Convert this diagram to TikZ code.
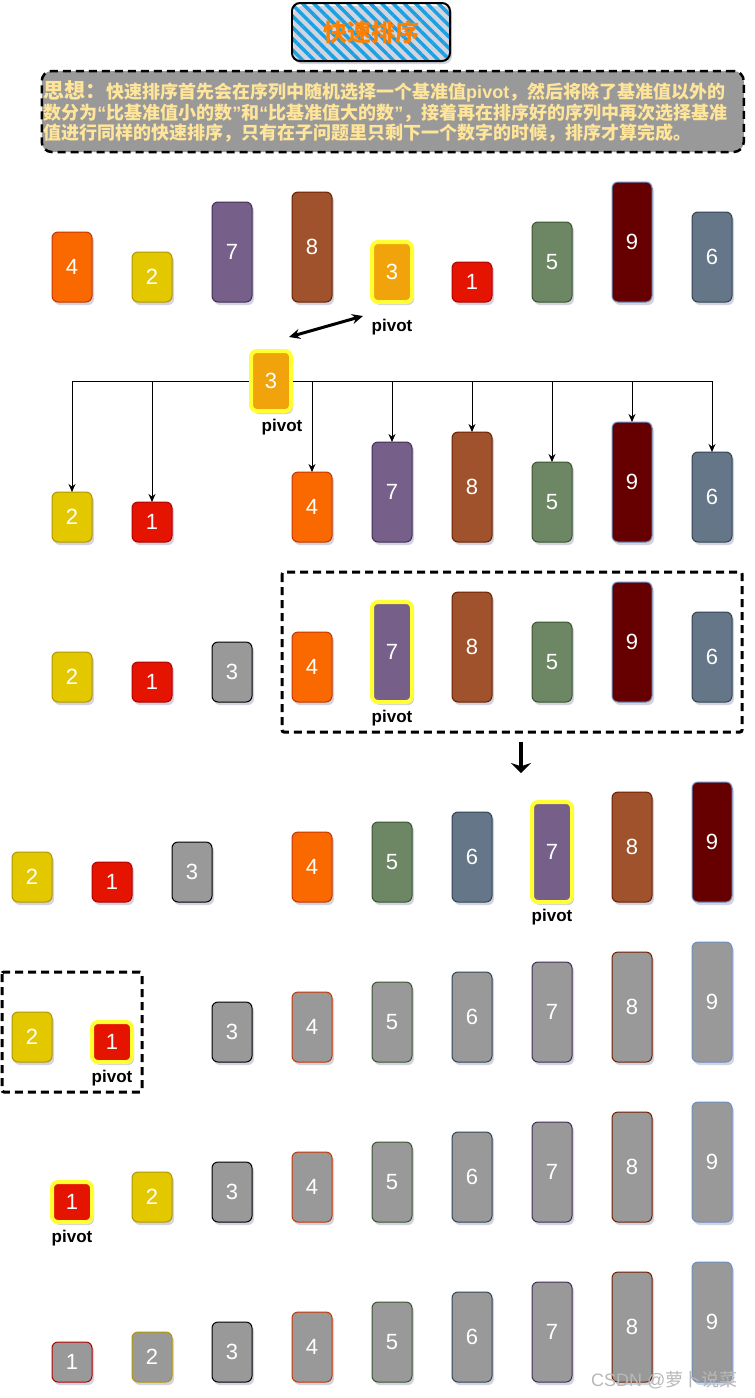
\documentclass[tikz,border=0pt]{standalone}
\usepackage{fontspec}
\setmainfont{Liberation Sans}
\newfontfamily\cjk{Noto Sans CJK SC}
\newfontfamily\latinsans{Liberation Sans}
\usetikzlibrary{arrows.meta, positioning, shadows, patterns.meta}

\definecolor{redf}{HTML}{E51400}
\definecolor{redd}{HTML}{B20000}
\definecolor{yelf}{HTML}{E3C800}
\definecolor{yeld}{HTML}{B09500}
\definecolor{ambf}{HTML}{F0A30A}
\definecolor{ambd}{HTML}{BD7000}
\definecolor{orgf}{HTML}{FA6800}
\definecolor{orgd}{HTML}{C73500}
\definecolor{olvf}{HTML}{6D8764}
\definecolor{olvd}{HTML}{3A5431}
\definecolor{stlf}{HTML}{647687}
\definecolor{stld}{HTML}{314354}
\definecolor{vltf}{HTML}{76608A}
\definecolor{vltd}{HTML}{432D57}
\definecolor{snaf}{HTML}{A0522D}
\definecolor{snad}{HTML}{6D1F00}
\definecolor{marf}{HTML}{660000}
\definecolor{mard}{HTML}{6C8EBF}
\definecolor{donegray}{HTML}{999999}
\definecolor{pivyel}{HTML}{FFFF33}
\definecolor{hatchblue}{HTML}{1BA1E2}
\definecolor{titleorg}{HTML}{FF8000}
\definecolor{ideatext}{HTML}{FFE599}
\definecolor{shade}{HTML}{B4B8CC}

\newcommand{\ltn}[1]{{\latinsans #1}}

% one number: [extra]{name}{x}{bottom}{value}
\newcommand{\numbox}[5][]{%
  \node[numbox, v#5, minimum height={30+10*#5}, #1] (#2) at (#3,#4) {#5};}

\tikzset{
  v1/.style={fill=redf, draw=redd},
  v2/.style={fill=yelf, draw=yeld},
  v3/.style={fill=ambf, draw=ambd},
  v4/.style={fill=orgf, draw=orgd},
  v5/.style={fill=olvf, draw=olvd},
  v6/.style={fill=stlf, draw=stld},
  v7/.style={fill=vltf, draw=vltd},
  v8/.style={fill=snaf, draw=snad},
  v9/.style={fill=marf, draw=mard},
  sorted/.style={fill=donegray},
  pivot/.style={draw=pivyel, line width=4pt},
  numbox/.style={rectangle, rounded corners=6pt, minimum width=40pt,
    inner sep=0pt, outer sep=0pt, anchor=south, text=white, line width=1pt,
    font=\fontsize{22}{26}\selectfont,
    drop shadow={shadow xshift=2pt, shadow yshift=-3pt, fill=shade, opacity=0.6}},
  lbl/.style={font=\fontsize{17}{20}\selectfont\bfseries, inner sep=0pt},
  tree/.style={-{Stealth[length=8pt, width=7pt]}, line width=1pt},
  framebox/.style={line width=3pt, dash pattern=on 8pt off 5pt, rounded corners=2pt},
}

\begin{document}
\begin{tikzpicture}[x=1pt, y=-1pt]

\fill[white] (0,0) rectangle (755,1398);
\useasboundingbox (0,0) rectangle (755,1398);

% Title
\node[draw, line width=2pt, rounded corners=8pt, minimum width=158pt, minimum height=58pt,
  pattern={Lines[angle=-45, distance=8pt, line width=3.5pt]}, pattern color=hatchblue,
  drop shadow={shadow xshift=2pt, shadow yshift=-3pt, fill=shade, opacity=0.6},
  font=\cjk\bfseries\fontsize{24}{28}\selectfont, text=titleorg] (title) at (371,32)
  {快速排序};

% Idea
\node[draw, line width=2.5pt, dash pattern=on 8pt off 5pt, rounded corners=10pt,
  fill=donegray, minimum width=702pt, minimum height=81pt, text width=699pt,
  inner xsep=1.5pt, align=left, text=ideatext,
  font=\cjk\bfseries\fontsize{18}{20}\selectfont] (idea) at (392.75,111.5)
  {{\fontsize{21}{24}\selectfont 思想：}快速排序首先会在序列中随机选择一个基准值\ltn{pivot}，然后将除了基准值以外的\\[1pt]
   数分为\ltn{“}比基准值小的数\ltn{”}和\ltn{“}比基准值大的数\ltn{”}，接着再在排序好的序列中再次选择基准\\
   值进行同样的快速排序，只有在子问题里只剩下一个数字的时候，排序才算完成。};

% === Row 1: the input ===
\numbox{a4}{72}{302}{4}
\numbox{a2}{152}{302}{2}
\numbox{a7}{232}{302}{7}
\numbox{a8}{312}{302}{8}
\numbox[pivot]{a3}{392}{302}{3}
\numbox{a1}{472}{302}{1}
\numbox{a5}{552}{302}{5}
\numbox{a9}{632}{302}{9}
\numbox{a6}{712}{302}{6}
\node[lbl, below=17pt of a3] (a3lbl) {pivot};

\coordinate (swapL) at (289,337);
\coordinate (swapR) at (363,316);
\draw[{Stealth[length=11pt, width=10pt]}-{Stealth[length=11pt, width=10pt]}, line width=3pt]
  (swapL) -- (swapR);

% === Row 2: split around 3 ===
\numbox[pivot]{b3}{271}{411}{3}
\node[lbl, below=8pt of b3, xshift=11pt] (b3lbl) {pivot};
\numbox{b2}{72}{542}{2}
\numbox{b1}{152}{542}{1}
\numbox{b4}{312}{542}{4}
\numbox{b7}{392}{542}{7}
\numbox{b8}{472}{542}{8}
\numbox{b5}{552}{542}{5}
\numbox{b9}{632}{542}{9}
\numbox{b6}{712}{542}{6}

\draw[tree] ([xshift=-2pt]b3.west) -| (b2.north);
\draw[tree] (b3.west -| b1.north) -- (b1.north);
\draw[tree] ([xshift=2pt]b3.east) -| (b6.north);
\foreach \n in {b4,b7,b8,b5,b9}
  \draw[tree] (b3.east -| \n.north) -- (\n.north);

% === Row 3: right part, pivot 7 ===
\numbox{c2}{72}{702}{2}
\numbox{c1}{152}{702}{1}
\numbox[sorted, draw=black]{c3}{232}{702}{3}
\numbox{c4}{312}{702}{4}
\numbox[pivot]{c7}{392}{702}{7}
\numbox{c8}{472}{702}{8}
\numbox{c5}{552}{702}{5}
\numbox{c9}{632}{702}{9}
\numbox{c6}{712}{702}{6}
\node[lbl, below=8pt of c7] (c7lbl) {pivot};
\draw[framebox] (282,572) rectangle (742,732);

\coordinate (downA) at (521,742);
\coordinate (downB) at (521,773);
\draw[-{Stealth[length=10pt, width=20pt]}, line width=4pt] (downA) -- (downB);

% === Row 4 ===
\numbox{d2}{32}{902}{2}
\numbox{d1}{112}{902}{1}
\numbox[sorted, draw=black]{d3}{192}{902}{3}
\numbox{d4}{312}{902}{4}
\numbox{d5}{392}{902}{5}
\numbox{d6}{472}{902}{6}
\numbox[pivot]{d7}{552}{902}{7}
\numbox{d8}{632}{902}{8}
\numbox{d9}{712}{902}{9}
\node[lbl, below=7pt of d7] (d7lbl) {pivot};

% === Row 5: left part, pivot 1 ===
\numbox{e2}{32}{1062}{2}
\numbox[pivot]{e1}{112}{1062}{1}
\node[lbl, below=8pt of e1] (e1lbl) {pivot};
\numbox[sorted, draw=black]{e3}{232}{1062}{3}
\foreach \v [evaluate=\v as \px using int(80*\v-8)] in {4,...,9}
  {\numbox[sorted]{e\v}{\px}{1062}{\v}}
\draw[framebox] (2,972) rectangle (142,1092);

% === Row 6 ===
\numbox[pivot]{f1}{72}{1222}{1}
\node[lbl, below=8pt of f1] (f1lbl) {pivot};
\numbox{f2}{152}{1222}{2}
\numbox[sorted, draw=black]{f3}{232}{1222}{3}
\foreach \v [evaluate=\v as \px using int(80*\v-8)] in {4,...,9}
  {\numbox[sorted]{f\v}{\px}{1222}{\v}}

% === Row 7: sorted ===
\foreach \v [evaluate=\v as \px using int(80*\v-8)] in {1,2,4,5,6,7,8,9}
  {\numbox[sorted]{g\v}{\px}{1382}{\v}}
\numbox[sorted, draw=black]{g3}{232}{1382}{3}

\node[anchor=east, text=black!28, font=\fontsize{18}{20}\selectfont] (mark) at (741,1380)
  {CSDN @{\cjk 萝卜说菜}};

\end{tikzpicture}
\end{document}
